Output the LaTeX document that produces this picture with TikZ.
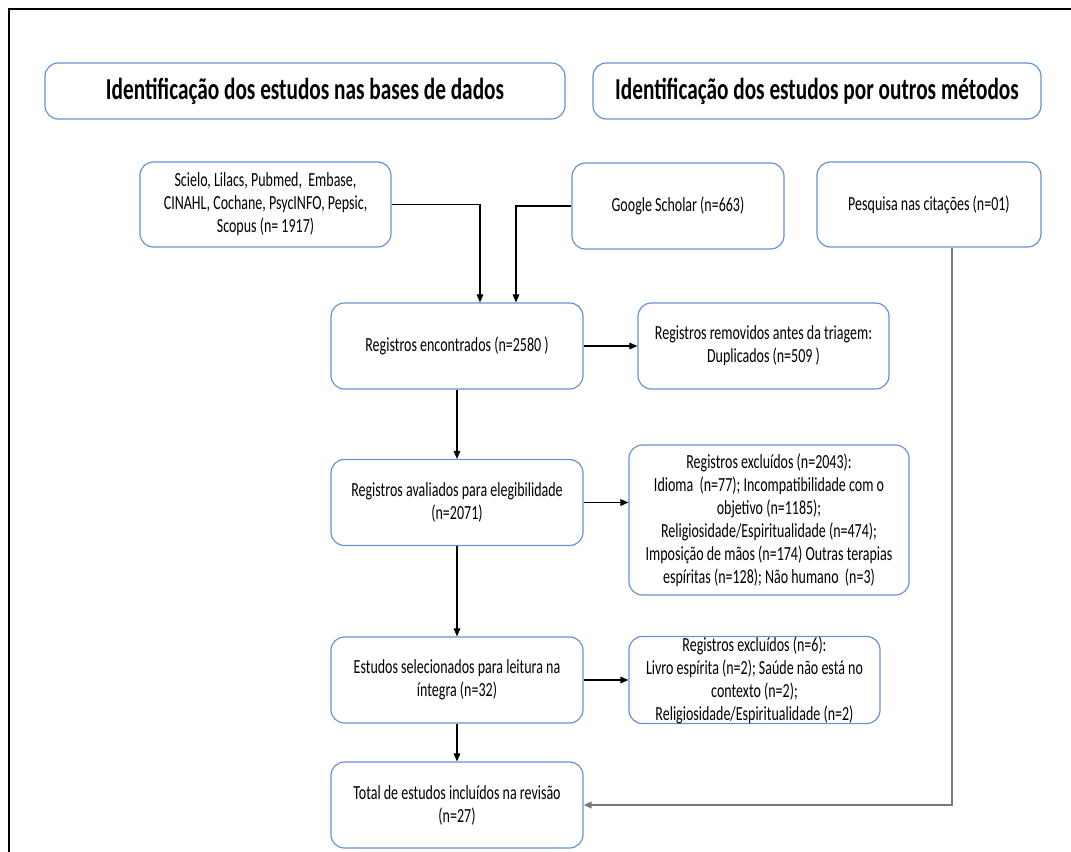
\documentclass[tikz,border=0pt]{standalone}
\usepackage{fontspec}
\setmainfont{Carlito}[FakeStretch=0.7]
\usetikzlibrary{arrows.meta,calc}
\definecolor{azulcaixa}{RGB}{105,145,212}
\definecolor{cinzalinha}{RGB}{120,120,120}

\begin{document}
\begin{tikzpicture}[x=0.75pt,y=-0.75pt,>={Triangle[length=6pt,width=5pt]},
  caixa/.style={draw=azulcaixa,line width=0.9pt,rounded corners=10pt,align=center,inner sep=0pt,
    minimum width=189pt,minimum height=64.5pt,font=\fontsize{15}{17.25}\selectfont},
  titulo/.style={caixa,minimum height=42pt,font=\fontsize{22.8}{26}\selectfont\bfseries},
  seta/.style={->,line width=0.8pt}]
  \useasboundingbox (0,0) rectangle (1071,852);
  % moldura
  \draw[line width=1.5pt] (9,852)--(9,9)--(1071,9);
  % titulos
  \node[titulo,minimum width=390pt] (tit1) at (305,91) {Identificação dos estudos nas bases de dados};
  \node[titulo,minimum width=336pt] (tit2) at (817,91) {Identificação dos estudos por outros métodos};
  % fontes
  \node[caixa,minimum width=188.25pt,minimum height=63.75pt] (bases) at (265.5,204.5)
    {Scielo, Lilacs, Pubmed,\ \ Embase,\\ CINAHL, Cochane, PsycINFO, Pepsic,\\ Scopus (n= 1917)};
  \node[caixa,minimum width=159pt] (google) at (678,206) {Google Scholar (n=663)};
  \node[caixa,minimum width=168pt,minimum height=63.75pt] (citacoes) at (929,204.5) {Pesquisa nas citações (n=01)};
  % fluxo principal
  \node[caixa] (encontrados) at (457,346) {Registros encontrados (n=2580 )};
  \node[caixa] (avaliados) at (457,502.5) {Registros avaliados para elegibilidade\\ (n=2071)};
  \node[caixa] (selecionados) at (457,680) {Estudos selecionados para leitura na\\ íntegra (n=32)};
  \node[caixa] (total) at (457,805) {Total de estudos incluídos na revisão\\ (n=27)};
  % exclusoes
  \node[caixa,minimum width=188.25pt] (removidos) at (763.5,346)
    {Registros removidos antes da triagem:\\ Duplicados (n=509 )};
  \node[caixa,minimum width=210pt,minimum height=112.5pt] (excluidos1) at (769,520)
    {Registros excluídos (n=2043):\\ Idioma\ \ (n=77); Incompatibilidade com o\\ objetivo (n=1185);\\
     Religiosidade/Espiritualidade (n=474);\\ Imposição de mãos (n=174) Outras terapias\\
     espíritas (n=128); Não humano\ \ (n=3)};
  \node[caixa,minimum width=188.25pt] (excluidos2) at (754.5,680)
    {Registros excluídos (n=6):\\ Livro espírita (n=2); Saúde não está no\\ contexto (n=2);\\
     Religiosidade/Espiritualidade (n=2)};
  % setas
  \draw[seta] (bases.east) -| ($(encontrados.north)+(23,0)$);
  \draw[seta] (google.west) -| ($(encontrados.north)+(59,0)$);
  \draw[seta] (encontrados.east) -- (removidos.west);
  \draw[seta] (encontrados) -- (avaliados);
  \draw[seta] (avaliados.east) -- (avaliados.east -| excluidos1.west);
  \draw[seta] (avaliados) -- (selecionados);
  \draw[seta] (selecionados.east) -- (excluidos2.west);
  \draw[seta] (selecionados) -- (total);
  \draw[seta,draw=cinzalinha,line width=1.2pt] ($(citacoes.south)+(23,0)$) |- (total.east);
\end{tikzpicture}
\end{document}
